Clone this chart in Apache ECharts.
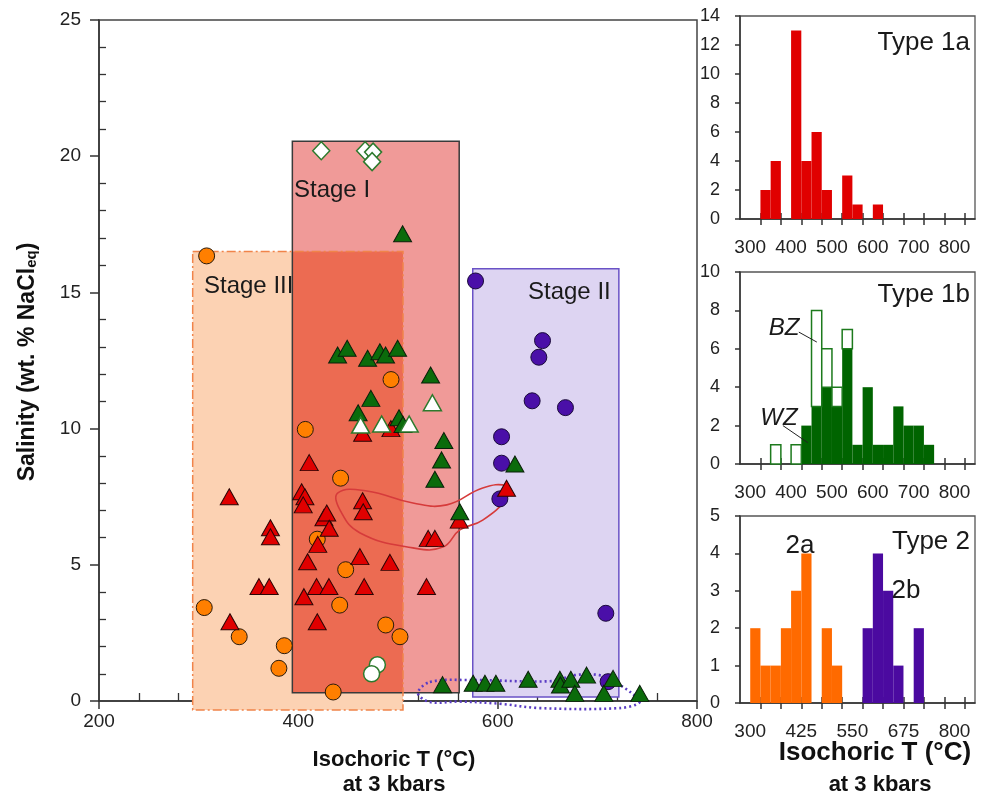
<!DOCTYPE html>
<html><head><meta charset="utf-8">
<script src="https://cdn.jsdelivr.net/npm/echarts@6/dist/echarts.min.js"></script>
<style>html,body{margin:0;padding:0;background:#fff}#c{width:982px;height:801px}</style>
</head><body><div id="c"></div>
<script>
// ---------- main scatter data: [T (°C), salinity (wt.% NaCl eq)] ----------
const type1aPts = [[330.7,7.5],[372,6.36],[372,6.03],[360.5,4.2],[370.8,4.2],[331.4,2.91],[410.9,8.75],[403.3,7.68],[406.6,7.5],[404.9,7.2],[425.7,6.73],[428.5,6.9],[431,6.34],[419.5,5.75],[409.3,5.11],[461.8,5.3],[491.9,5.09],[418.3,4.2],[430.7,4.2],[466.1,4.2],[528.6,4.2],[405.6,3.83],[419,2.91],[464.5,9.83],[492.9,10.0],[464.5,7.35],[465.1,6.95],[561.4,6.64],[530.3,5.97],[537,5.97],[608.9,7.81]];
const type1bWZPts = [[439.4,12.7],[449,12.95],[469.5,12.58],[481.8,12.82],[487.5,12.7],[499.6,12.95],[532.7,11.97],[472.8,11.11],[460,10.58],[501,10.4],[505,10.15],[546,9.56],[543.7,8.85],[537,8.14],[562,6.95],[617.3,8.7],[504.6,17.15],[544.7,0.6],[575.4,0.65],[587.2,0.65],[598.2,0.65],[630.6,0.8],[662.4,0.8],[663,0.59],[673.4,0.8],[677.4,0.28],[689.2,0.95],[706.5,0.28],[715.8,0.83],[742.6,0.28]];
const type1bBZPts = [[534.5,10.95],[462.5,10.13],[483.6,10.17],[511.2,10.17]];
const bzDiamondPts = [[423,20.2],[467,20.2],[475,20.15],[474,19.8]];
const type2aPts = [[308,16.34],[305.6,3.43],[340.7,2.36],[385.9,2.03],[380.5,1.2],[407,9.97],[442.4,8.18],[419,5.94],[447.5,4.82],[441.5,3.52],[487.7,2.79],[502,2.36],[435,0.33],[493,11.8]];
const whiteCirclePts = [[479.3,1.33],[473.5,1.0]];
const type2bPts = [[577.8,15.42],[645,13.23],[641.3,12.62],[634.6,11.02],[668,10.77],[603.9,9.7],[603.9,8.73],[602.2,7.42],[708.5,3.22],[710.8,0.71]];

// stage fields: [Tmin, Tmax, Smin, Smax]
const stageIII = [294, 505, -0.33, 16.5];
const stageI = [394, 561.4, 0.3, 20.55];
const stageII = [575, 721.6, 0.15, 15.87];

// outlined fields
const redLoop = [[439.7,7.64],[468.8,7.71],[515,7.27],[549,7.2],[585,7.82],[609,7.89],[610,7.5],[585,6.64],[562,6.28],[545,5.65],[515,5.62],[462,6.17],[442,7.0]];
const purpleLoop = [[532,0.7],[572,0.77],[655,0.73],[677,0.95],[702,0.95],[716,0.72],[733,0.33],[742.6,-0.04],[722,-0.26],[642,-0.26],[602,-0.1],[562,-0.02],[532,-0.04],[520,0.29]];

// axes ticks
const mainXTicks = [200, 400, 600, 800];
const mainYTicks = [0, 5, 10, 15, 20, 25];
const histTickValues = [325,375,425,475,525,575,625,675,725,775,825];
const histLabels1 = [300,400,500,600,700,800];
const histLabels2 = [300,425,550,675,800];

// histograms (bin start, bin width 25)
const bins1a = [325,350,400,425,450,475,525,550,600];
const counts1a = [2,4,13,4,6,2,3,1,1];
const bins1b = [350,400,425,450,475,500,525,550,575,600,625,650,675,700,725];
const countsWZ = [0,0,2,3,4,3,6,1,4,1,1,3,2,2,1];
const countsBZ = [1,1,0,5,2,1,1,0,0,0,0,0,0,0,0];
const bins2a = [300,325,350,375,400,425,475,500];
const counts2a = [2,1,1,2,3,4,2,1];
const bins2b = [575,600,625,650,700];
const counts2b = [2,4,3,1,2];
const BIN = 25;

// leader lines for BZ / WZ (in Type 1b data coordinates)
const bzLeader = [[419,6.87],[463,6.35]];
const wzLeader = [[380,2.0],[441,1.11]];

const FONT = 'Liberation Sans, Arial, Helvetica, sans-serif';
const AX = '#333';

const chart = echarts.init(document.getElementById('c'), null, {renderer:'canvas'});

function histRender(fill, stroke) {
  return function (params, api) {
    const x0 = api.value(0), lo = api.value(1), hi = api.value(2);
    if (hi <= lo) return null;
    const a = api.coord([x0, hi]), b = api.coord([x0 + BIN, lo]);
    return {type:'rect', shape:{x:a[0], y:a[1], width:b[0]-a[0], height:b[1]-a[1]},
      style:{fill: fill, stroke: stroke || null, lineWidth: stroke ? 1.5 : 0}};
  };
}
const hist1aData = bins1a.map((b,i)=>[b,0,counts1a[i]]);
const histWZData = bins1b.map((b,i)=>[b,0,countsWZ[i]]);
const histBZData = bins1b.map((b,i)=>[b,countsWZ[i],countsWZ[i]+countsBZ[i]]);
const hist2aData = bins2a.map((b,i)=>[b,0,counts2a[i]]);
const hist2bData = bins2b.map((b,i)=>[b,0,counts2b[i]]);

const overlap = [Math.max(stageIII[0],stageI[0]), Math.min(stageIII[1],stageI[1]), Math.max(stageIII[2],stageI[2]), Math.min(stageIII[3],stageI[3])];
const stageFillData = [stageIII, stageI, overlap, stageII];
const stageFillColors = ['#fcd2b3', '#f09a98', '#ec6b52', '#ddd4f2'];
const stageBorderData = [stageI, stageIII, stageII];
const stageBorderStyles = [
  {stroke:'#3a3a3a', lineWidth:1.5},
  {stroke:'#f0844a', lineWidth:1.5, lineDash:[9,3,2,3]},
  {stroke:'#6a52c6', lineWidth:1.5}
];
function rectFromRange(api, r) {
  const a = api.coord([r[0], r[3]]), b = api.coord([r[1], r[2]]);
  return {x:a[0], y:a[1], width:b[0]-a[0], height:b[1]-a[1]};
}

function histX(grid, labels) {
  return {gridIndex:grid, type:'value', min:275, max:850,
    axisLine:{show:true, onZero:false, lineStyle:{color:AX, width:1.5}},
    axisTick:{show:true, length:6, customValues:histTickValues, lineStyle:{color:AX, width:1.5}},
    axisLabel:{show:true, customValues:labels, fontSize:19, color:'#222', fontFamily:FONT, margin:19},
    splitLine:{show:false}};
}
function histXInner(grid) {
  return {gridIndex:grid, type:'value', min:275, max:850, position:'bottom',
    axisLine:{show:false, onZero:false}, axisLabel:{show:false},
    axisTick:{show:true, inside:true, length:6, customValues:histTickValues, lineStyle:{color:AX, width:1.5}},
    splitLine:{show:false}};
}
function histY(grid, max, interval) {
  return {gridIndex:grid, type:'value', min:0, max:max, interval:interval,
    axisLine:{show:true, onZero:false, lineStyle:{color:AX, width:1.5}},
    axisTick:{show:true, length:5, lineStyle:{color:AX, width:1.5}},
    axisLabel:{fontSize:18, color:'#222', fontFamily:FONT, margin:20},
    splitLine:{show:false}};
}

function scatter(data, symbol, size, fill, stroke, bw) {
  return {type:'scatter', xAxisIndex:0, yAxisIndex:0, data:data, symbol:symbol, symbolSize:size, z:5,
    itemStyle:{color:fill, borderColor:stroke, borderWidth:bw, opacity:1}, emphasis:{disabled:true}, clip:false};
}

const txt = (text, x, y, size, opts) => Object.assign({type:'text', x:x, y:y, z:100,
  style:Object.assign({text:text, fontSize:size, fontFamily:FONT, fill:'#1a1a1a', align:'left', verticalAlign:'middle'}, opts||{})});

const mainXBase = {type:'value', min:mainXTicks[0], max:mainXTicks[mainXTicks.length-1], interval:200, splitLine:{show:false}, minorSplitLine:{show:false}};
const mainYBase = {type:'value', min:mainYTicks[0], max:mainYTicks[mainYTicks.length-1], interval:5, splitLine:{show:false}, minorSplitLine:{show:false}};
// helper axes whose outward minor ticks point into the main plot
const minorOnly = {axisLine:{show:false, onZero:false}, axisLabel:{show:false}, axisTick:{show:false}};

const option = {
  backgroundColor:'#fff',
  animation:false,
  grid:[
    {left:99, top:20, width:598, height:681, show:true, borderColor:'#444', borderWidth:1.5, backgroundColor:'transparent'},
    {left:740, top:16, width:235, height:203, show:true, borderColor:'#555', borderWidth:1.3},
    {left:740, top:272, width:235, height:192, show:true, borderColor:'#555', borderWidth:1.3},
    {left:740, top:516, width:235, height:187, show:true, borderColor:'#555', borderWidth:1.3},
    {left:60, top:20, width:39, height:681, show:false},
    {left:99, top:701, width:598, height:20, show:false}
  ],
  xAxis:[
    Object.assign({gridIndex:0}, mainXBase, {
      axisLine:{show:true, onZero:false, lineStyle:{color:AX, width:1.5}},
      axisTick:{show:true, length:8, lineStyle:{color:AX, width:1.5}},
      minorTick:{show:false},
      axisLabel:{fontSize:19, color:'#222', fontFamily:FONT, margin:11}}),
    histX(1, histLabels1), histX(2, histLabels1), histX(3, histLabels2),
    histXInner(1), histXInner(2), histXInner(3),
    Object.assign({gridIndex:5, position:'top'}, mainXBase, minorOnly,
      {minorTick:{show:true, splitNumber:5, length:8, lineStyle:{color:AX, width:1.3}}}),
    {gridIndex:4, type:'value', min:0, max:1, show:false}
  ],
  yAxis:[
    Object.assign({gridIndex:0}, mainYBase, {
      axisLine:{show:true, onZero:false, lineStyle:{color:AX, width:1.5}},
      axisTick:{show:true, length:9, lineStyle:{color:AX, width:1.5}},
      minorTick:{show:false},
      axisLabel:{fontSize:19, color:'#222', fontFamily:FONT, margin:18}}),
    histY(1, 14, 2), histY(2, 10, 2), histY(3, 5, 1),
    Object.assign({gridIndex:4, position:'right'}, mainYBase, minorOnly,
      {minorTick:{show:true, splitNumber:5, length:7, lineStyle:{color:AX, width:1.3}}}),
    {gridIndex:5, type:'value', min:0, max:1, show:false}
  ],
  series:[
    {type:'custom', name:'stageFill', xAxisIndex:0, yAxisIndex:0, clip:false, z:1, silent:true,
      data:stageFillData,
      renderItem:(params, api)=>({type:'rect', shape:rectFromRange(api, stageFillData[params.dataIndex]),
        style:{fill:stageFillColors[params.dataIndex]}})},
    {type:'custom', name:'stageBorder', xAxisIndex:0, yAxisIndex:0, clip:false, z:2, silent:true,
      data:stageBorderData,
      renderItem:(params, api)=>({type:'rect', shape:rectFromRange(api, stageBorderData[params.dataIndex]),
        style:Object.assign({fill:'none'}, stageBorderStyles[params.dataIndex])})},
    {type:'custom', name:'redLoop', xAxisIndex:0, yAxisIndex:0, clip:false, z:3, silent:true,
      data:[[500,5]],
      renderItem:(params, api)=>({type:'polygon', shape:{points:redLoop.map(p=>api.coord(p)), smooth:0.45},
        style:{fill:'none', stroke:'#d63b3b', lineWidth:1.6}})},
    {type:'custom', name:'purpleLoop', xAxisIndex:0, yAxisIndex:0, clip:false, z:3, silent:true,
      data:[[600,0.5]],
      renderItem:(params, api)=>({type:'polygon', shape:{points:purpleLoop.map(p=>api.coord(p)), smooth:0.35},
        style:{fill:'none', stroke:'#5a3cc4', lineWidth:2.6, lineDash:[2,3]}})},
    scatter(bzDiamondPts, 'diamond', [17,18], '#ffffff', '#2d7a2d', 1.5),
    scatter(type2aPts, 'circle', 16, '#ff7f00', '#2a1a0a', 1),
    scatter(type2bPts, 'circle', 16, '#4a0fa8', '#1a0a3a', 1),
    scatter(whiteCirclePts, 'circle', 16, '#ffffff', '#2d7a2d', 1.5),
    scatter(type1aPts, 'triangle', [18,16], '#e00000', '#2a0505', 1),
    scatter(type1bWZPts, 'triangle', [18,16], '#0b6b0b', '#0a200a', 1),
    scatter(type1bBZPts, 'triangle', [18,16], '#ffffff', '#2d7a2d', 1.5),
    {type:'custom', xAxisIndex:1, yAxisIndex:1, data:hist1aData, renderItem:histRender('#e00000'), silent:true, z:2},
    {type:'custom', xAxisIndex:2, yAxisIndex:2, data:histWZData, renderItem:histRender('#006400'), silent:true, z:2},
    {type:'custom', xAxisIndex:2, yAxisIndex:2, data:histBZData, renderItem:histRender('#ffffff', '#1d7a1d'), silent:true, z:2},
    {type:'custom', xAxisIndex:3, yAxisIndex:3, data:hist2aData, renderItem:histRender('#ff6a00'), silent:true, z:2},
    {type:'custom', xAxisIndex:3, yAxisIndex:3, data:hist2bData, renderItem:histRender('#4b0aa0'), silent:true, z:2},
    {type:'line', xAxisIndex:2, yAxisIndex:2, data:bzLeader, symbol:'none', lineStyle:{color:'#222', width:1}, silent:true, z:4},
    {type:'line', xAxisIndex:2, yAxisIndex:2, data:wzLeader, symbol:'none', lineStyle:{color:'#222', width:1}, silent:true, z:4}
  ],
  graphic:[
    txt('Stage III', 204, 286, 24),
    txt('Stage I', 294, 190, 24),
    txt('Stage II', 528, 292, 24),
    txt('Type 1a', 970, 43, 26, {align:'right'}),
    txt('Type 1b', 970, 295, 26, {align:'right'}),
    txt('Type 2', 970, 542, 26, {align:'right'}),
    txt('2a', 800, 546, 26, {align:'center'}),
    txt('2b', 906, 591, 26, {align:'center'}),
    txt('BZ', 784, 328, 24, {align:'center', fontStyle:'italic'}),
    txt('WZ', 779, 418, 24, {align:'center', fontStyle:'italic'}),
    txt('Isochoric T (°C)', 394, 760, 22, {align:'center', fontWeight:'bold', fill:'#111'}),
    txt('at 3 kbars', 394, 785, 22, {align:'center', fontWeight:'bold', fill:'#111'}),
    txt('Isochoric T (°C)', 875, 753, 26, {align:'center', fontWeight:'bold', fill:'#111'}),
    txt('at 3 kbars', 880, 785, 22, {align:'center', fontWeight:'bold', fill:'#111'}),
    {type:'text', x:28, y:362, rotation:Math.PI/2, z:100,
      style:{text:'{a|Salinity (wt. % NaCl}{b|eq}{a|)}', align:'center', verticalAlign:'middle', fill:'#111',
        fontFamily:FONT,
        rich:{a:{fontSize:23, fontWeight:'bold', fontFamily:FONT, fill:'#111'},
              b:{fontSize:15, fontWeight:'bold', fontFamily:FONT, fill:'#111', verticalAlign:'bottom', lineHeight:2}}}}
  ]
};
chart.setOption(option);
</script></body></html>
